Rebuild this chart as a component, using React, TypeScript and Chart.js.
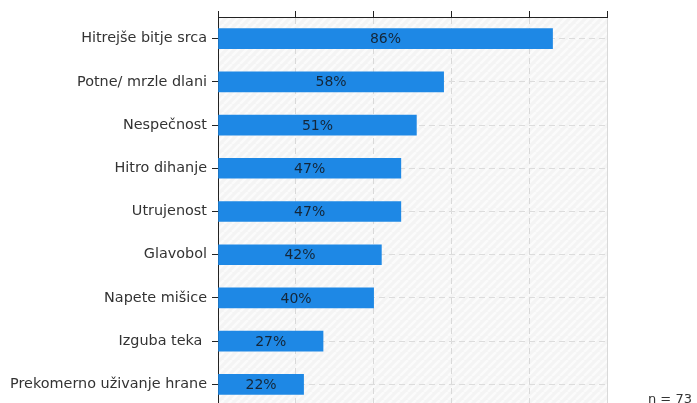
import React, { useEffect, useRef } from "react";
import { Chart, registerables } from "chart.js";

Chart.register(...registerables);

const categories = [
  "Hitrejše bitje srca",
  "Potne/ mrzle dlani",
  "Nespečnost",
  "Hitro dihanje",
  "Utrujenost",
  "Glavobol",
  "Napete mišice",
  "Izguba teka ",
  "Prekomerno uživanje hrane",
];
const values = [86, 58, 51, 47, 47, 42, 40, 27, 22];
const sampleNote = "n = 73";

const W = 697;
const H = 420;

function makePattern(ctx: CanvasRenderingContext2D) {
  const c = document.createElement("canvas");
  const s = 8;
  c.width = s;
  c.height = s;
  const g = c.getContext("2d")!;
  g.fillStyle = "#f4f4f4";
  g.fillRect(0, 0, s, s);
  g.strokeStyle = "#fbfbfb";
  g.lineWidth = 2.5;
  for (let k = -1; k <= 1; k++) {
    g.beginPath();
    g.moveTo(k * s, s);
    g.lineTo(k * s + s, 0);
    g.stroke();
  }
  return ctx.createPattern(c, "repeat");
}

export default function App() {
  const ref = useRef<HTMLCanvasElement>(null);
  useEffect(() => {
    const canvas = ref.current!;
    Chart.defaults.font.family = "'DejaVu Sans', sans-serif";
    Chart.defaults.font.size = 12;
    const bgPlugin = {
      id: "bg",
      beforeDraw(chart: any) {
        const { ctx, chartArea } = chart;
        const p = makePattern(ctx);
        ctx.save();
        ctx.fillStyle = p || "#f5f5f5";
        ctx.fillRect(chartArea.left, chartArea.top, chartArea.right - chartArea.left, chartArea.bottom - chartArea.top);
        ctx.restore();
      },
    };
    const labelPlugin = {
      id: "labels",
      afterDatasetsDraw(chart: any) {
        const { ctx } = chart;
        const meta = chart.getDatasetMeta(0);
        ctx.save();
        ctx.font = "14px 'DejaVu Sans', sans-serif";
        ctx.fillStyle = "#142638";
        ctx.textAlign = "center";
        ctx.textBaseline = "middle";
        meta.data.forEach((el: any, i: number) => {
          const x = (el.x + el.base) / 2;
          ctx.fillText(values[i] + "%", x, el.y + 1);
        });
        ctx.font = "13px 'DejaVu Sans', sans-serif";
        ctx.fillStyle = "#333";
        ctx.textAlign = "left";
        ctx.textBaseline = "alphabetic";
        ctx.fillText(sampleNote, chart.chartArea.right + 41, chart.height - 17);
        ctx.restore();
      },
    };
    const chart = new Chart(canvas, {
      type: "bar",
      data: {
        labels: categories,
        datasets: [
          {
            data: values,
            backgroundColor: "#1e88e5",
            borderWidth: 0,
            barThickness: 20,
          },
        ],
      },
      options: {
        indexAxis: "y",
        responsive: false,
        animation: false,
        layout: { padding: { top: 11, right: 90, bottom: 14, left: 0 } },
        plugins: { legend: { display: false }, tooltip: { enabled: false } },
        scales: {
          x: {
            position: "top",
            min: 0,
            max: 100,
            ticks: { display: false, stepSize: 20 },
            grid: {
              color: (c: any) => (c.index === 0 ? "rgba(0,0,0,0)" : "#d9d9d9"),
              tickColor: "#222",
              tickLength: 6,
              lineWidth: 1,
            },
            border: {
              color: "#222",
              width: 1,
              dash: (c: any) => (c.index === 5 ? [] : [6, 4]),
            },
          },
          y: {
            ticks: { color: "#333", padding: 5, font: { size: 14.4 } },
            grid: {
              offset: false,
              color: "#dcdcdc",
              tickColor: "#222",
              tickLength: 6,
            },
            border: { color: "#222", width: 1, dash: [6, 4] },
            afterFit(scale: any) {
              scale.width = 218;
            },
          },
        },
      },
      plugins: [bgPlugin, labelPlugin],
    });
    return () => chart.destroy();
  }, []);
  return (
    <div style={{ position: "fixed", left: 0, top: 0, width: W, height: 403, overflow: "hidden", background: "#fff" }}>
      <canvas ref={ref} width={W} height={H} style={{ width: W, height: H, display: "block" }} />
    </div>
  );
}
